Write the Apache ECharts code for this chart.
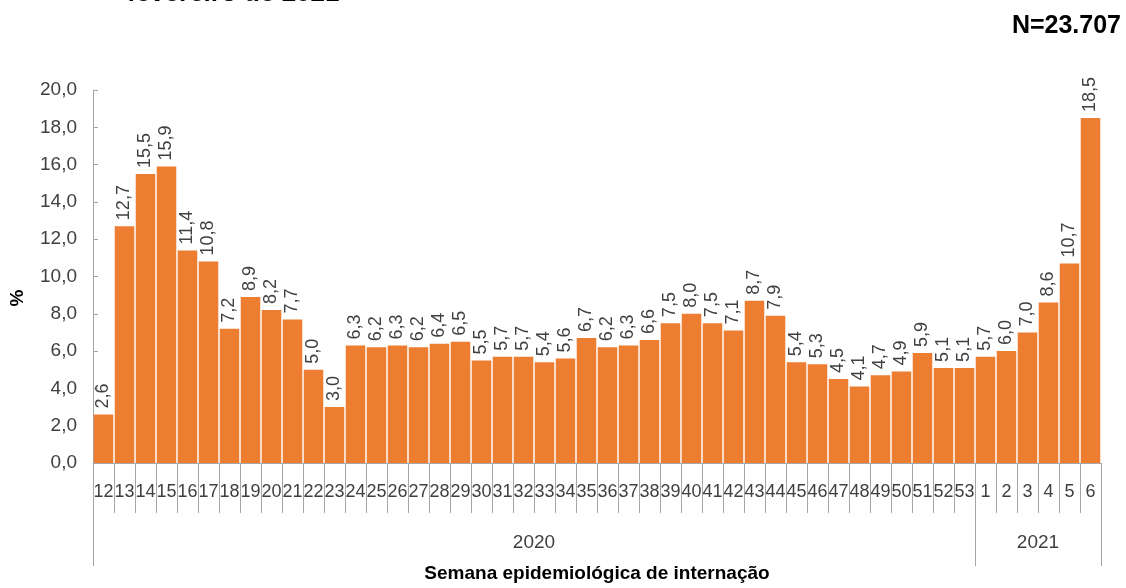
<!DOCTYPE html>
<html>
<head>
<meta charset="utf-8">
<script src="https://cdn.jsdelivr.net/npm/echarts@6/dist/echarts.min.js"></script>
<style>
  html, body { margin: 0; padding: 0; background: #ffffff; }
  #chart { width: 1126px; height: 588px; }
</style>
</head>
<body>
<div id="chart"></div>
<script>
// Epidemiological weeks of hospitalisation, split by year
const weeks2020 = ['12','13','14','15','16','17','18','19','20','21','22','23','24','25','26','27','28','29','30','31','32','33','34','35','36','37','38','39','40','41','42','43','44','45','46','47','48','49','50','51','52','53'];
const weeks2021 = ['1','2','3','4','5','6'];

// Share of hospitalisations (%) per week
const values2020 = [2.6,12.7,15.5,15.9,11.4,10.8,7.2,8.9,8.2,7.7,5.0,3.0,6.3,6.2,6.3,6.2,6.4,6.5,5.5,5.7,5.7,5.4,5.6,6.7,6.2,6.3,6.6,7.5,8.0,7.5,7.1,8.7,7.9,5.4,5.3,4.5,4.1,4.7,4.9,5.9,5.1,5.1];
const values2021 = [5.7,6.0,7.0,8.6,10.7,18.5];

const years = ['2020', '2021'];
const titleText = 'fevereiro de 2021';
const totalText = 'N=23.707';
const xTitle = 'Semana epidemiológica de internação';
const yTitle = '%';

const weeks = weeks2020.concat(weeks2021);
const values = values2020.concat(values2021);
const n2020 = weeks2020.length;
const nAll = weeks.length;

const fmt = v => Number(v).toFixed(1).replace('.', ',');
const axisGrey = '#a6a6a6';
const textColor = '#404040';
const narrow = '"Liberation Sans Narrow", "Arial Narrow", "Liberation Sans", Arial, sans-serif';
const sans = '"Liberation Sans", Arial, sans-serif';

const chart = echarts.init(document.getElementById('chart'), null, { renderer: 'canvas' });

chart.setOption({
  animation: false,
  backgroundColor: '#ffffff',
  textStyle: { fontFamily: sans },
  grid: { left: 93, right: 25, top: 90, bottom: 118, containLabel: false },
  graphic: [
    {
      type: 'text', left: 127, top: -19,
      style: { text: titleText, font: 'bold 26px ' + sans, fill: '#000000' }
    },
    {
      type: 'text', right: 5, top: 14,
      style: { text: totalText, font: 'bold 25px ' + sans, fill: '#000000' }
    },
    {
      type: 'text', x: 18, y: 298, rotation: Math.PI / 2,
      style: { text: yTitle, font: 'bold 19px ' + sans, fill: '#000000', align: 'center', verticalAlign: 'middle' }
    }
  ],
  xAxis: [
    {
      type: 'category',
      data: weeks,
      position: 'bottom',
      axisLine: { show: true, lineStyle: { color: axisGrey } },
      axisTick: { show: true, interval: 0, alignWithLabel: false, length: 50, lineStyle: { color: axisGrey } },
      axisLabel: { interval: 0, margin: 20, color: textColor, fontFamily: narrow, fontSize: 18 },
      splitLine: { show: false }
    },
    {
      type: 'value',
      min: 0,
      max: nAll,
      position: 'bottom',
      axisLine: { show: false },
      splitLine: { show: false },
      axisTick: {
        show: true, length: 103,
        customValues: [0, n2020, nAll],
        lineStyle: { color: axisGrey }
      },
      axisLabel: {
        customValues: [n2020 / 2, n2020 + (nAll - n2020) / 2],
        formatter: v => (v < n2020 ? years[0] : years[1]),
        margin: 70, color: textColor, fontFamily: narrow, fontSize: 19
      },
      name: xTitle,
      nameLocation: 'middle',
      nameGap: 101,
      nameTextStyle: { fontWeight: 'bold', fontSize: 19, color: '#000000', fontFamily: sans }
    }
  ],
  yAxis: {
    type: 'value',
    min: 0,
    max: 20,
    interval: 2,
    axisLine: { show: true, lineStyle: { color: axisGrey } },
    axisTick: { show: true, inside: true, length: 5, lineStyle: { color: axisGrey } },
    axisLabel: { formatter: fmt, margin: 16, color: textColor, fontSize: 19, fontFamily: sans },
    splitLine: { show: false }
  },
  series: [
    {
      type: 'bar',
      xAxisIndex: 0,
      data: values,
      barCategoryGap: '7%',
      itemStyle: { color: '#ED7D31' },
      label: {
        show: true,
        position: 'top',
        rotate: 90,
        align: 'left',
        verticalAlign: 'middle',
        distance: 6,
        formatter: p => fmt(p.value),
        color: textColor,
        fontSize: 18,
        fontFamily: sans
      }
    }
  ]
});
</script>
</body>
</html>
